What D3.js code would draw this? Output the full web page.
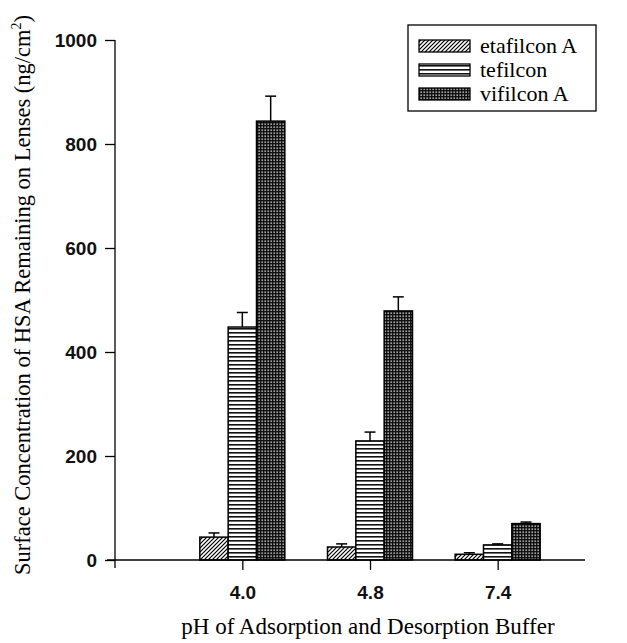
<!DOCTYPE html>
<html>
<head>
<meta charset="utf-8">
<script src="https://cdn.jsdelivr.net/npm/d3@7"></script>
<style>
  body { margin: 0; background: #fff; }
</style>
</head>
<body>
<script>
// data
var categories = ["4.0", "4.8", "7.4"];
var series = ["etafilcon A", "tefilcon", "vifilcon A"];
var etafilcon = [44, 25, 11];
var tefilcon = [448, 229, 29];
var vifilcon = [844, 479, 70];
var etafilconErr = [52, 31, 14];
var tefilconErr = [476, 246, 31];
var vifilconErr = [892, 506, 73];
var yTicks = [0, 200, 400, 600, 800, 1000];

var values = [etafilcon, tefilcon, vifilcon];
var errs = [etafilconErr, tefilconErr, vifilconErr];

var width = 627, height = 643;
var margin = {top: 40, left: 115, bottom: 83, right: 42};
var plotBottom = height - margin.bottom;

var svg = d3.select("body").append("svg")
    .attr("width", width)
    .attr("height", height);

// patterns
var defs = svg.append("defs");
var p1 = defs.append("pattern")
    .attr("id", "diag")
    .attr("patternUnits", "userSpaceOnUse")
    .attr("width", 4).attr("height", 4);
p1.append("rect").attr("width", 4).attr("height", 4).attr("fill", "#fff");
p1.append("path")
    .attr("d", "M-1,1 l2,-2 M0,4 l4,-4 M3,5 l2,-2")
    .attr("stroke", "#000").attr("stroke-width", 1.2);

var p2 = defs.append("pattern")
    .attr("id", "horiz")
    .attr("patternUnits", "userSpaceOnUse")
    .attr("width", 4).attr("height", 4);
p2.append("rect").attr("width", 4).attr("height", 4).attr("fill", "#fff");
p2.append("rect").attr("y", 0).attr("width", 4).attr("height", 1.6).attr("fill", "#111");

var p3 = defs.append("pattern")
    .attr("id", "check")
    .attr("patternUnits", "userSpaceOnUse")
    .attr("width", 3).attr("height", 3);
p3.append("rect").attr("width", 3).attr("height", 3).attr("fill", "#111");
p3.append("rect").attr("x", 0.5).attr("y", 0.5).attr("width", 1.3).attr("height", 1.3).attr("fill", "#eee");

var fills = ["url(#diag)", "url(#horiz)", "url(#check)"];

var yScale = d3.scaleLinear()
    .domain([0, 1000])
    .range([plotBottom, margin.top]);

var xScale = d3.scaleBand()
    .domain(categories)
    .range([179, 562]);

var inner = d3.scaleBand()
    .domain(series)
    .range([-43, 42]);

// bars
series.forEach(function(s, si){
  var g = svg.append("g");
  g.selectAll("rect")
      .data(values[si])
      .enter().append("rect")
      .attr("x", function(d, i){ return xScale(categories[i]) + xScale.bandwidth()/2 + inner(s); })
      .attr("y", function(d){ return yScale(d); })
      .attr("width", inner.bandwidth())
      .attr("height", function(d){ return plotBottom - yScale(d); })
      .attr("fill", fills[si])
      .attr("stroke", "#000")
      .attr("stroke-width", 1.5);

  // error bars (upper only)
  errs[si].forEach(function(e, i){
    var cx = xScale(categories[i]) + xScale.bandwidth()/2 + inner(s) + inner.bandwidth()/2;
    g.append("line")
        .attr("x1", cx).attr("x2", cx)
        .attr("y1", yScale(values[si][i])).attr("y2", yScale(e))
        .attr("stroke", "#000").attr("stroke-width", 1.5);
    g.append("line")
        .attr("x1", cx - 5.5).attr("x2", cx + 5.5)
        .attr("y1", yScale(e)).attr("y2", yScale(e))
        .attr("stroke", "#000").attr("stroke-width", 1.5);
  });
});

// y axis
var yAxis = d3.axisLeft(yScale)
    .tickValues(yTicks)
    .tickSize(10)
    .tickPadding(8)
    .tickFormat(d3.format("d"));

var yGuide = svg.append("g")
    .attr("transform", "translate(" + margin.left + ",0)")
    .call(yAxis);
yGuide.select(".domain").remove();
yGuide.selectAll("line").attr("stroke", "#000").attr("stroke-width", 1.3);
yGuide.selectAll("text")
    .style("font-family", "'Liberation Sans', Arial, sans-serif")
    .style("font-size", "19px")
    .style("font-weight", "bold")
    .attr("fill", "#111");

svg.append("line")
    .attr("x1", margin.left).attr("x2", margin.left)
    .attr("y1", margin.top).attr("y2", plotBottom + 8)
    .attr("stroke", "#000").attr("stroke-width", 1.3);

// x axis
var xAxis = d3.axisBottom(xScale)
    .tickSize(10)
    .tickPadding(16);
var xGuide = svg.append("g")
    .attr("transform", "translate(0," + plotBottom + ")")
    .call(xAxis);
xGuide.select(".domain").remove();
xGuide.selectAll("line").attr("stroke", "#000").attr("stroke-width", 1.3);
xGuide.selectAll("text")
    .style("font-family", "'Liberation Sans', Arial, sans-serif")
    .style("font-size", "19px")
    .style("font-weight", "bold")
    .attr("fill", "#111");

svg.append("line")
    .attr("x1", margin.left - 8).attr("x2", 585)
    .attr("y1", plotBottom).attr("y2", plotBottom)
    .attr("stroke", "#000").attr("stroke-width", 1.3);

// axis titles
svg.append("text")
    .attr("x", 368).attr("y", 634)
    .attr("text-anchor", "middle")
    .style("font-family", "'Liberation Serif', 'Times New Roman', serif")
    .style("font-size", "23px")
    .text("pH of Adsorption and Desorption Buffer");

var yl = svg.append("text")
    .attr("transform", "translate(30,295) rotate(-90)")
    .attr("text-anchor", "middle")
    .style("font-family", "'Liberation Serif', 'Times New Roman', serif")
    .style("font-size", "22.5px");
yl.append("tspan").text("Surface Concentration of HSA Remaining on Lenses (ng/cm");
yl.append("tspan").attr("dy", -9).style("font-size", "14px").text("2");
yl.append("tspan").attr("dy", 9).text(")");

// legend
var legend = svg.append("g").attr("transform", "translate(408,25)");
legend.append("rect")
    .attr("width", 188).attr("height", 86)
    .attr("fill", "#fff").attr("stroke", "#000").attr("stroke-width", 1.3);
series.forEach(function(s, i){
  legend.append("rect")
      .attr("x", 11).attr("y", 15 + i * 24)
      .attr("width", 51).attr("height", 12)
      .attr("fill", fills[i])
      .attr("stroke", "#000").attr("stroke-width", 1.3);
  legend.append("text")
      .attr("x", 72).attr("y", 28 + i * 24)
      .style("font-family", "'Liberation Serif', 'Times New Roman', serif")
      .style("font-size", "22px")
      .text(s);
});
</script>
</body>
</html>
